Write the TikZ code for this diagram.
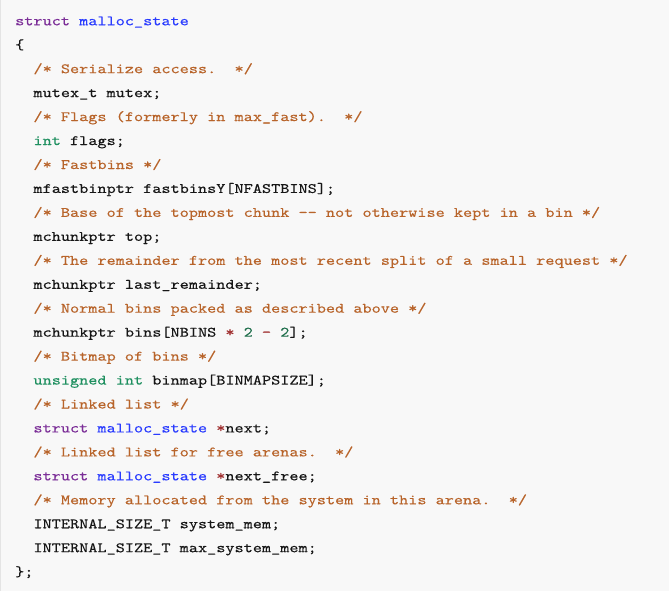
\documentclass[tikz,border=0pt]{standalone}
\usepackage{fontspec}
\newfontfamily\codefont{lmmono10-regular.otf}[FakeStretch=1.209,FakeBold=0.25]
\definecolor{bg}{HTML}{F8F8F8}
\definecolor{edge}{HTML}{E4E4E4}
\definecolor{kwc}{HTML}{7C2F98}
\definecolor{defc}{HTML}{2A3CFF}
\definecolor{comc}{HTML}{B8642A}
\definecolor{typc}{HTML}{1F9060}
\definecolor{numc}{HTML}{1D6E4A}
\definecolor{opc}{HTML}{A03030}
\definecolor{txtc}{HTML}{161616}
\newcommand\ckw[1]{\textcolor{kwc}{#1}}
\newcommand\cdef[1]{\textcolor{defc}{#1}}
\newcommand\ccom[1]{\textcolor{comc}{#1}}
\newcommand\ctyp[1]{\textcolor{typc}{#1}}
\newcommand\cnumb[1]{\textcolor{numc}{#1}}
\newcommand\cop[1]{\textcolor{opc}{#1}}
\begin{document}
\begin{tikzpicture}[x=1pt,y=-1pt,
  codeline/.style={anchor=base west,inner sep=0pt,text=txtc,
    font=\codefont\frenchspacing\fontsize{14.4}{24}\selectfont}]
\fill[bg] (0,0) rectangle (669,590);
\draw[edge,line width=1pt] (0.5,0) -- (0.5,590);
\useasboundingbox (0,0) rectangle (669,590);
\def\xa{15}
\def\xb{33.28}
\node[codeline] (l1) at (\xa,24.8) {\ckw{struct} \cdef{malloc\_state}};
\node[codeline] (l2) at (\xa,48.75) {\{};
\node[codeline] (l3) at (\xb,72.7) {\ccom{/* Serialize access.~~*/}};
\node[codeline] (l4) at (\xb,96.65) {mutex\_t mutex;};
\node[codeline] (l5) at (\xb,120.6) {\ccom{/* Flags (formerly in max\_fast).~~*/}};
\node[codeline] (l6) at (\xb,144.55) {\ctyp{int} flags;};
\node[codeline] (l7) at (\xb,168.5) {\ccom{/* Fastbins */}};
\node[codeline] (l8) at (\xb,192.45) {mfastbinptr fastbinsY[NFASTBINS];};
\node[codeline] (l9) at (\xb,216.4) {\ccom{/* Base of the topmost chunk -\kern0pt- not otherwise kept in a bin */}};
\node[codeline] (l10) at (\xb,240.35) {mchunkptr top;};
\node[codeline] (l11) at (\xb,264.3) {\ccom{/* The remainder from the most recent split of a small request */}};
\node[codeline] (l12) at (\xb,288.25) {mchunkptr last\_remainder;};
\node[codeline] (l13) at (\xb,312.2) {\ccom{/* Normal bins packed as described above */}};
\node[codeline] (l14) at (\xb,336.15) {mchunkptr bins[NBINS \cop{*} \cnumb{2} \cop{-} \cnumb{2}];};
\node[codeline] (l15) at (\xb,360.1) {\ccom{/* Bitmap of bins */}};
\node[codeline] (l16) at (\xb,384.05) {\ctyp{unsigned int} binmap[BINMAPSIZE];};
\node[codeline] (l17) at (\xb,408.0) {\ccom{/* Linked list */}};
\node[codeline] (l18) at (\xb,431.95) {\ckw{struct} \cdef{malloc\_state} \cop{*}next;};
\node[codeline] (l19) at (\xb,455.9) {\ccom{/* Linked list for free arenas.~~*/}};
\node[codeline] (l20) at (\xb,479.85) {\ckw{struct} \cdef{malloc\_state} \cop{*}next\_free;};
\node[codeline] (l21) at (\xb,503.8) {\ccom{/* Memory allocated from the system in this arena.~~*/}};
\node[codeline] (l22) at (\xb,527.75) {INTERNAL\_SIZE\_T system\_mem;};
\node[codeline] (l23) at (\xb,551.7) {INTERNAL\_SIZE\_T max\_system\_mem;};
\node[codeline] (l24) at (\xa,575.65) {\};};
\end{tikzpicture}
\end{document}
